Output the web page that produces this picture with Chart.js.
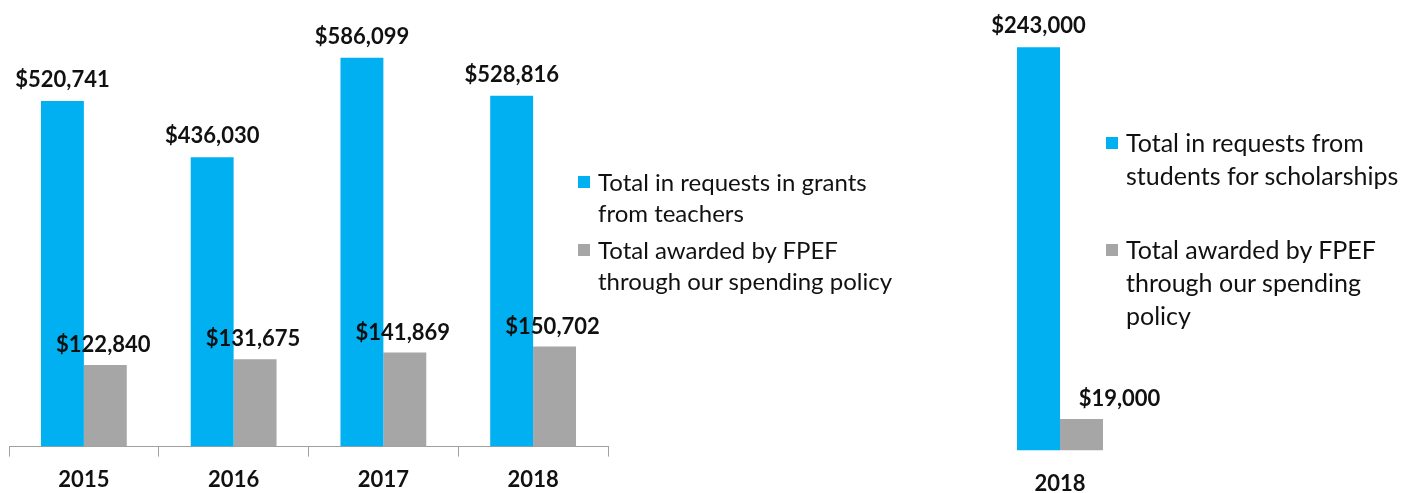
<!DOCTYPE html>
<html>
<head>
<meta charset="utf-8">
<script src="https://cdn.jsdelivr.net/npm/chart.js@4/dist/chart.umd.min.js"></script>
<style>
  html, body { margin: 0; padding: 0; background: #fff; }
  body { width: 1401px; height: 493px; position: relative; overflow: hidden; font-family: Lato, sans-serif; color: #111; }
  .box { position: absolute; }
  .legend { position: absolute; }
  .legend .item { position: absolute; white-space: nowrap; }
  .legend .sw { position: absolute; width: 12px; height: 12px; }
</style>
</head>
<body>
<div class="box" id="leftBox" style="left:0; top:0; width:620px; height:505px;"><canvas id="grantsChart"></canvas></div>
<div class="box" id="rightBox" style="left:935px; top:0; width:250px; height:507px;"><canvas id="scholarChart"></canvas></div>
<div class="legend" id="grantsLegend" style="font-size:24px;"></div>
<div class="legend" id="scholarLegend" style="font-size:25px;"></div>

<script>
// --- data ---
const grantYears = ['2015', '2016', '2017', '2018'];
const grantRequested = [520741, 436030, 586099, 528816];
const grantAwarded = [122840, 131675, 141869, 150702];
const grantLabels = [['Total in requests in grants', 'from teachers'], ['Total awarded by FPEF', 'through our spending policy']];

const scholarYears = ['2018'];
const scholarRequested = [243000];
const scholarAwarded = [19000];
const scholarLabels = [['Total in requests from', 'students for scholarships'], ['Total awarded by FPEF', 'through our spending', 'policy']];

const BLUE = '#00B0F0';
const GRAY = '#A6A6A6';

// draws "$123,456" above each bar; xShift per dataset
const valueLabels = {
    id: 'valueLabels',
    afterDatasetsDraw(chart, args, opts) {
        const ctx = chart.ctx;
        ctx.save();
        ctx.font = 'bold 22px Lato';
        ctx.fillStyle = '#111';
        ctx.textAlign = 'center';
        ctx.textBaseline = 'bottom';
        chart.data.datasets.forEach((ds, di) => {
            const meta = chart.getDatasetMeta(di);
            meta.data.forEach((bar, i) => {
                const txt = '$' + ds.data[i].toLocaleString('en-US');
                ctx.fillText(txt, bar.x + opts.xShift[di], bar.y - opts.gap[di]);
            });
        });
        ctx.restore();
    }
};

function makeChart(id, years, requested, awarded, yMax, showAxis, shifts, gaps, pad) {
    return new Chart(document.getElementById(id), {
        type: 'bar',
        data: {
            labels: years,
            datasets: [
                { data: requested, backgroundColor: BLUE },
                { data: awarded, backgroundColor: GRAY }
            ]
        },
        options: {
            responsive: true,
            maintainAspectRatio: false,
            animation: false,
            categoryPercentage: 0.573,
            barPercentage: 1.0,
            layout: { padding: pad },
            scales: {
                y: { display: false, min: 0, max: yMax },
                x: {
                    grid: { display: showAxis, drawOnChartArea: false, drawTicks: true, tickLength: 10, color: '#a0a0a0' },
                    border: { display: showAxis, color: '#a0a0a0' },
                    ticks: { color: '#111', font: { family: 'Lato', size: 22, weight: 'bold' }, padding: 10 }
                }
            },
            plugins: {
                legend: { display: false },
                tooltip: { enabled: false },
                valueLabels: { xShift: shifts, gap: gaps }
            }
        },
        plugins: [valueLabels]
    });
}

makeChart('grantsChart', grantYears, grantRequested, grantAwarded, 652000, true, [0, -2], [10, 9], { left: 9, right: 12, top: 14, bottom: 2 });
makeChart('scholarChart', scholarYears, scholarRequested, scholarAwarded, 263000, false, [0, 38], [10, 9], { left: 50, right: 50, top: 14, bottom: 0 });

// --- html legends ---
function buildLegend(id, labels, left, tops, lineH) {
    const el = document.getElementById(id);
    const colors = [BLUE, GRAY];
    labels.forEach((lines, i) => {
        const sw = document.createElement('div');
        sw.className = 'sw';
        sw.style.background = colors[i];
        sw.style.left = left + 'px';
        sw.style.top = (tops[i] + lineH / 2 - 6) + 'px';
        el.appendChild(sw);
        const item = document.createElement('div');
        item.className = 'item';
        item.style.left = (left + 20) + 'px';
        item.style.top = tops[i] + 'px';
        item.style.lineHeight = lineH + 'px';
        item.innerHTML = lines.join('<br>');
        el.appendChild(item);
    });
}
buildLegend('grantsLegend', grantLabels, 578, [166, 234], 31);
buildLegend('scholarLegend', scholarLabels, 1106, [126, 233], 33);
</script>
</body>
</html>
